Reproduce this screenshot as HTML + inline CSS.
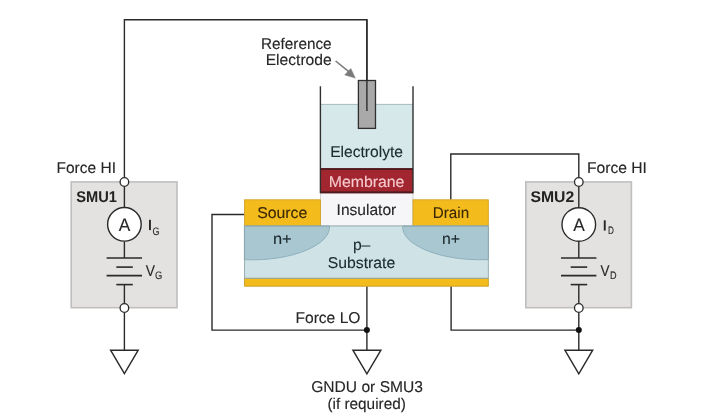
<!DOCTYPE html>
<html><head><meta charset="utf-8">
<style>
html,body{margin:0;padding:0;background:#fff;}
body{width:702px;height:416px;overflow:hidden;}
svg{display:block;will-change:transform;}
text{font-family:"Liberation Sans",sans-serif;text-rendering:geometricPrecision;}
</style></head>
<body>
<svg width="702" height="416" viewBox="0 0 702 416">
<rect x="0" y="0" width="702" height="416" fill="#ffffff"/>
<rect x="71.2" y="181.9" width="105.8" height="125.8" fill="#e3e2e0" stroke="#c0bfbd" stroke-width="1.6"/>
<rect x="525.8" y="181.9" width="105.6" height="125.8" fill="#e3e2e0" stroke="#c0bfbd" stroke-width="1.6"/>
<g fill="none" stroke="#2a2a2a" stroke-width="1.4">
  <path d="M124.4,177.5 V19.7 H366.9 V111"/>
  <path d="M124.4,186.5 V207"/>
  <path d="M124.4,241.6 V258"/>
  <path d="M124.4,284.6 V303.6"/>
  <path d="M124.4,312.4 V350.2"/>
  <path d="M578.8,177.5 V154 H450.8 V199.7"/>
  <path d="M578.8,186.5 V207"/>
  <path d="M578.8,241.6 V258"/>
  <path d="M578.8,284.6 V303.6"/>
  <path d="M578.8,312.4 V350.2"/>
  <path d="M244.4,214.5 H212 V330.1 H366.9 V350.2"/>
  <path d="M366.9,286.3 V330.1"/>
  <path d="M451.1,286.3 V330.1 H578.8"/>
</g>
<circle cx="124.4" cy="224.3" r="16.8" fill="#ffffff" stroke="#2a2a2a" stroke-width="1.4"/>
<circle cx="578.8" cy="224.5" r="16.8" fill="#ffffff" stroke="#2a2a2a" stroke-width="1.4"/>
<g stroke="#2a2a2a" stroke-width="1.6">
  <line x1="106.6" y1="258" x2="142" y2="258"/>
  <line x1="116.3" y1="267.1" x2="132.8" y2="267.1"/>
  <line x1="106.6" y1="275.6" x2="142" y2="275.6"/>
  <line x1="116.3" y1="284.6" x2="132.8" y2="284.6"/>
  <line x1="561" y1="258" x2="596.4" y2="258"/>
  <line x1="570.7" y1="267.1" x2="587.2" y2="267.1"/>
  <line x1="561" y1="275.6" x2="596.4" y2="275.6"/>
  <line x1="570.7" y1="284.6" x2="587.2" y2="284.6"/>
</g>
<g fill="#ffffff" stroke="#2a2a2a" stroke-width="1.3">
  <circle cx="124.4" cy="182" r="4.3"/>
  <circle cx="124.4" cy="308" r="4.3"/>
  <circle cx="578.8" cy="182" r="4.3"/>
  <circle cx="578.8" cy="308" r="4.3"/>
</g>
<circle cx="366.9" cy="330.1" r="3" fill="#111"/>
<circle cx="578.8" cy="330.1" r="3" fill="#111"/>
<g fill="#ffffff" stroke="#2a2a2a" stroke-width="1.4" stroke-linejoin="miter">
  <path d="M110.6,350.2 H138.2 L124.4,373.6 Z"/>
  <path d="M352.9,350.2 H380.9 L366.9,373.8 Z"/>
  <path d="M564.9,350.2 H592.7 L578.8,373.8 Z"/>
</g>
<rect x="320.4" y="104" width="92.6" height="64.7" fill="#d6e8ea"/>
<path d="M320.4,104.4 H413" stroke="#a3b8ba" stroke-width="0.9"/>

<rect x="320.4" y="193.2" width="92.6" height="32.8" fill="#f6f5f7" stroke="#c8c8c8" stroke-width="0.8"/>
<rect x="320.4" y="168.2" width="92.6" height="25" fill="#a2262f"/>
<rect x="320.4" y="168.2" width="92.6" height="1.7" fill="#451a1f"/>
<rect x="320.4" y="191.4" width="92.6" height="1.8" fill="#4a1a20"/>
<g stroke="#2f2f2f" stroke-width="1.4" fill="none">
  <path d="M320.4,86.3 V193.2"/>
  <path d="M413,86.3 V193.2"/>
</g>
<rect x="244.6" y="199.8" width="75.8" height="26.2" fill="#f3bc1c" stroke="#d2a120" stroke-width="0.9"/>
<rect x="413" y="199.8" width="75.3" height="26.2" fill="#f3bc1c" stroke="#d2a120" stroke-width="0.9"/>
<rect x="244.4" y="226" width="244.1" height="52.3" fill="#cfe3e7"/>
<path d="M244.4,226 H329.4 C331.6,243.6 294.2,261.7 244.4,259.7 Z" fill="#a8c7d1" stroke="#8aadb9" stroke-width="0.9"/>
<path d="M488.5,226 H402.8 C400.6,243.6 438.2,261.7 488.5,259.6 Z" fill="#a8c7d1" stroke="#8aadb9" stroke-width="0.9"/>
<rect x="244.6" y="278.3" width="243.7" height="7.9" fill="#f3bc1c" stroke="#c89c22" stroke-width="0.9"/>
<rect x="244.6" y="226" width="243.7" height="52.3" fill="none" stroke="#8ea7ad" stroke-width="0.9"/>
<rect x="358.4" y="80.5" width="17.1" height="47.9" fill="#a9a9a9" stroke="#2f2f2f" stroke-width="1.3"/>
<path d="M366.9,19.7 V111" stroke="#2a2a2a" stroke-width="1.4" fill="none"/>
<g stroke="#7a7a7a" fill="#7a7a7a">
  <path d="M335.6,61 L350,72.6" stroke-width="1.6" fill="none"/>
  <path d="M355.3,78.1 L344.7,74.9 L350.8,68.5 Z" stroke-width="0.5"/>
</g>
<rect x="149.0" y="219.8" width="1.9" height="10.3" fill="#262626"/>
<rect x="603.8" y="220.3" width="1.9" height="10.3" fill="#262626"/>
<g>
<text transform="translate(260.95,48.50) scale(0.9822,1)" font-size="15.6" fill="#262626" stroke="#262626" stroke-width="0.12">Reference</text>
<text transform="translate(265.63,65.45) scale(1.0026,1)" font-size="15.6" fill="#262626" stroke="#262626" stroke-width="0.12">Electrode</text>
<text transform="translate(330.19,156.50) scale(0.9998,1)" font-size="15.6" fill="#1c2a2e" stroke="#1c2a2e" stroke-width="0.12">Electrolyte</text>
<text transform="translate(328.69,186.80) scale(1.0161,1)" font-size="15.6" fill="#f6c9cd" stroke="#f6c9cd" stroke-width="0.12">Membrane</text>
<text transform="translate(257.13,217.85) scale(1.0164,1)" font-size="15.6" fill="#3b2805" stroke="#3b2805" stroke-width="0.12">Source</text>
<text transform="translate(336.60,214.55) scale(0.9971,1)" font-size="15.6" fill="#262626" stroke="#262626" stroke-width="0.12">Insulator</text>
<text transform="translate(432.76,217.95) scale(0.9747,1)" font-size="15.6" fill="#3b2805" stroke="#3b2805" stroke-width="0.12">Drain</text>
<text transform="translate(272.88,243.75) scale(1.0546,1)" font-size="15.6" fill="#1c2a2e" stroke="#1c2a2e" stroke-width="0.12">n+</text>
<text transform="translate(441.89,243.75) scale(1.0170,1)" font-size="15.6" fill="#1c2a2e" stroke="#1c2a2e" stroke-width="0.12">n+</text>
<text transform="translate(352.88,249.55) scale(1.0081,1)" font-size="15.6" fill="#1c2a2e" stroke="#1c2a2e" stroke-width="0.12">p–</text>
<text transform="translate(327.82,267.95) scale(1.0091,1)" font-size="15.6" fill="#1c2a2e" stroke="#1c2a2e" stroke-width="0.12">Substrate</text>
<text transform="translate(56.52,173.25) scale(0.9946,1)" font-size="15.6" fill="#262626" stroke="#262626" stroke-width="0.12">Force HI</text>
<text transform="translate(586.88,173.25) scale(1.0046,1)" font-size="15.6" fill="#262626" stroke="#262626" stroke-width="0.12">Force HI</text>
<text transform="translate(76.19,201.60) scale(0.9446,1)" font-size="15.5" fill="#222222" stroke="#222222" stroke-width="0" font-weight="bold">SMU1</text>
<text transform="translate(530.39,201.60) scale(1.0164,1)" font-size="15.5" fill="#222222" stroke="#222222" stroke-width="0" font-weight="bold">SMU2</text>
<text transform="translate(118.63,230.90) scale(0.9542,1)" font-size="18.2" fill="#262626" stroke="#262626" stroke-width="0.12">A</text>
<text transform="translate(573.13,230.90) scale(0.9507,1)" font-size="18.2" fill="#262626" stroke="#262626" stroke-width="0.12">A</text>
<text transform="translate(152.40,234.50) scale(0.8333,1)" font-size="10.8" fill="#262626" stroke="#262626" stroke-width="0.12">G</text>
<text transform="translate(607.90,234.40) scale(0.7564,1)" font-size="10.8" fill="#262626" stroke="#262626" stroke-width="0.12">D</text>
<text transform="translate(145.75,275.60) scale(0.8894,1)" font-size="15.6" fill="#262626" stroke="#262626" stroke-width="0.12">V</text>
<text transform="translate(154.90,278.90) scale(0.8690,1)" font-size="10.8" fill="#262626" stroke="#262626" stroke-width="0.12">G</text>
<text transform="translate(600.60,275.60) scale(0.8654,1)" font-size="15.6" fill="#262626" stroke="#262626" stroke-width="0.12">V</text>
<text transform="translate(609.90,278.60) scale(0.8462,1)" font-size="10.8" fill="#262626" stroke="#262626" stroke-width="0.12">D</text>
<text transform="translate(295.43,323.00) scale(1.0002,1)" font-size="15.6" fill="#262626" stroke="#262626" stroke-width="0.12">Force LO</text>
<text transform="translate(311.22,392.30) scale(0.9997,1)" font-size="15.6" fill="#262626" stroke="#262626" stroke-width="0.12">GNDU or SMU3</text>
<text transform="translate(327.39,408.75) scale(0.9840,1)" font-size="15.6" fill="#262626" stroke="#262626" stroke-width="0.12">(if required)</text>
</g>
</svg>
</body></html>
